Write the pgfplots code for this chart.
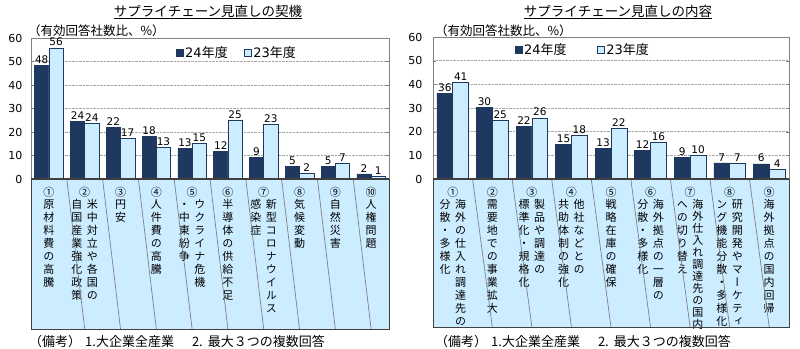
\documentclass[border=0pt]{standalone}
\usepackage{fontspec}
\setmainfont{Noto Sans CJK JP}
\newfontfamily\vfont[RawFeature=+vert]{Noto Sans CJK JP}
\newfontfamily\numfont{DejaVu Sans}
\usepackage{pgfplots}
\pgfplotsset{compat=1.18}
\definecolor{navy}{RGB}{31,56,96}
\definecolor{lblue}{RGB}{204,236,255}
\definecolor{framec}{RGB}{128,128,128}
\definecolor{darkc}{RGB}{64,64,64}
\ExplSyntaxOn
\NewDocumentCommand\vcol{O{1.18em}m}{\vtop{\offinterlineskip\tl_map_inline:nn{#2}{\hbox_to_wd:nn{1.05em}{\hss\rule[-0.27em]{0pt}{#1}##1\hss}}}}
\ExplSyntaxOff
\newcommand\catA[2]{#1\\\vcol{#2}}
\newcommand\catB[3]{#1\\\hbox{\vcol{#3}\hspace{4pt}\vcol{#2}}}
\newcommand\catC[3]{#1\\\hbox{\vcol{#3}\hspace{4pt}\vcol[1.07em]{#2}}}
\pgfplotsset{
  mystyle/.style={
    scale only axis, ybar=0pt, ymin=0, ymax=60, ytick={0,10,...,60},
    axis line style={framec}, clip=false, set layers=standard,
    ymajorgrids, grid style={densely dotted, gray!70},
    major tick length=3pt, tick align=inside, ytick style={draw=framec}, xtick style={draw=none},
    /pgf/number format/.cd, assume math mode=true, fixed, precision=0, /pgfplots/.cd,
    yticklabel style={font=\numfont\fontsize{11}{13}\selectfont},
    xticklabel style={font=\vfont\fontsize{11}{10.6}\selectfont, anchor=north, align=center, inner sep=0pt, yshift=-8pt},
    nodes near coords,
    nodes near coords style={font=\numfont\fontsize{10.5}{12}\selectfont, text=black, inner sep=1.5pt},
    legend style={draw=none, fill=none, font=\fontsize{13}{15}\selectfont, legend columns=2},
    legend image code/.code={\draw[##1,line width=0.6pt] (0pt,-3.5pt) rectangle (7pt,3.5pt);},
  }
}
\begin{document}
\begin{tikzpicture}
% ---------- left panel ----------
\begin{axis}[mystyle, at={(31pt,169pt)}, anchor=south west, width=358pt, height=141pt,
  xmin=-0.5, xmax=9.5, xtick={0,...,9}, bar width=14.3pt,
  yticklabel style={xshift=-5pt},
  legend style={at={(0.395,0.894)}, anchor=west, /tikz/every even column/.append style={column sep=14pt}},
  xticklabels={
    {\catA{①}{原材料費の高騰}},
    {\catB{②}{米中対立や各国の}{自国産業強化政策}},
    {\catA{③}{円安}},
    {\catA{④}{人件費の高騰}},
    {\catB{⑤}{ウクライナ危機}{・中東紛争}},
    {\catA{⑥}{半導体の供給不足}},
    {\catB{⑦}{新型コロナウイルス}{感染症}},
    {\catA{⑧}{気候変動}},
    {\catA{⑨}{自然災害}},
    {\catA{⑩}{人権問題}}}]
\addplot[fill=navy, draw=navy, line width=0.6pt] coordinates {(0,48.4) (1,24.4) (2,22.0) (3,18.0) (4,12.9) (5,11.7) (6,9.3) (7,5.3) (8,5.2) (9,2.2)};
\addplot[fill=lblue, draw=navy, line width=0.6pt] coordinates {(0,55.8) (1,23.8) (2,17.3) (3,13.4) (4,15.3) (5,24.8) (6,23.1) (7,2.4) (8,6.8) (9,1.2)};
\legend{{\numfont 24}年度,{\numfont 23}年度}
\begin{pgfonlayer}{axis background}
\fill[lblue] (rel axis cs:0,0) rectangle ([yshift=-150pt]rel axis cs:1,0);
\end{pgfonlayer}
\pgfplotsinvokeforeach{0.5,1.5,...,8.5}{\draw[framec, line width=0.7pt] (axis cs:#1,0) -- ++(0,-150pt);}
\draw[darkc, line width=0.8pt] (rel axis cs:0,0) rectangle ([yshift=-150pt]rel axis cs:1,0);
\draw[darkc, line width=1.2pt] (rel axis cs:0,0) -- (rel axis cs:1,0);
\end{axis}
% ---------- right panel ----------
\begin{axis}[mystyle, at={(433pt,169pt)}, anchor=south west, width=356pt, height=142pt,
  xmin=-0.5, xmax=8.5, xtick={0,...,8}, bar width=15.8pt,
  yticklabel style={xshift=-7pt},
  legend style={at={(0.22,0.908)}, anchor=west, /tikz/every even column/.append style={column sep=28pt}},
  xticklabels={
    {\catB{①}{海外の仕入れ調達先の}{分散・多様化}},
    {\catA{②}{需要地での事業拡大}},
    {\catB{③}{製品や調達の}{標準化・規格化}},
    {\catB{④}{他社などとの}{共助体制の強化}},
    {\catA{⑤}{戦略在庫の確保}},
    {\catB{⑥}{海外拠点の一層の}{分散・多様化}},
    {\catC{⑦}{海外仕入れ調達先の国内}{への切り替え}},
    {\catB{⑧}{研究開発やマーケティ}{ング機能分散・多様化}},
    {\catA{⑨}{海外拠点の国内回帰}}}]
\addplot[fill=navy, draw=navy, line width=0.6pt] coordinates {(0,36.3) (1,30.4) (2,22.3) (3,14.6) (4,12.9) (5,12.1) (6,9.0) (7,6.8) (8,6.4)};
\addplot[fill=lblue, draw=navy, line width=0.6pt] coordinates {(0,40.8) (1,24.7) (2,25.8) (3,18.3) (4,21.6) (5,15.6) (6,9.9) (7,6.8) (8,4.1)};
\legend{{\numfont 24}年度,{\numfont 23}年度}
\begin{pgfonlayer}{axis background}
\fill[lblue] (rel axis cs:0,0) rectangle ([yshift=-148pt]rel axis cs:1,0);
\end{pgfonlayer}
\pgfplotsinvokeforeach{0.5,1.5,...,7.5}{\draw[framec, line width=0.7pt] (axis cs:#1,0) -- ++(0,-148pt);}
\draw[darkc, line width=0.8pt] (rel axis cs:0,0) rectangle ([yshift=-148pt]rel axis cs:1,0);
\draw[darkc, line width=1.2pt] (rel axis cs:0,0) -- (rel axis cs:1,0);
\end{axis}
% ---------- titles and notes ----------
\node[font=\fontsize{13.5}{15}\selectfont] at (208pt,336pt) {\underline{サプライチェーン見直しの契機}};
\node[font=\fontsize{13.5}{15}\selectfont] at (618pt,336pt) {\underline{サプライチェーン見直しの内容}};
\node[anchor=west, inner sep=0pt, font=\fontsize{12.5}{14}\selectfont] at (28pt,317pt) {（有効回答社数比、\%）};
\node[anchor=west, inner sep=0pt, font=\fontsize{12.5}{14}\selectfont] at (435pt,317pt) {（有効回答社数比、\%）};
\node[anchor=west, inner sep=0pt, font=\fontsize{13}{15}\selectfont] at (29pt,6pt) {（備考）\hspace{4pt}1.大企業全産業\hspace{18pt}2.\hspace{5pt}最大３つの複数回答};
\node[anchor=west, inner sep=0pt, font=\fontsize{13}{15}\selectfont] at (435pt,6pt) {（備考）\hspace{4pt}1.大企業全産業\hspace{18pt}2.\hspace{5pt}最大３つの複数回答};
\pgfresetboundingbox
\useasboundingbox (0,0) rectangle (800pt,348pt);
\end{tikzpicture}
\end{document}
